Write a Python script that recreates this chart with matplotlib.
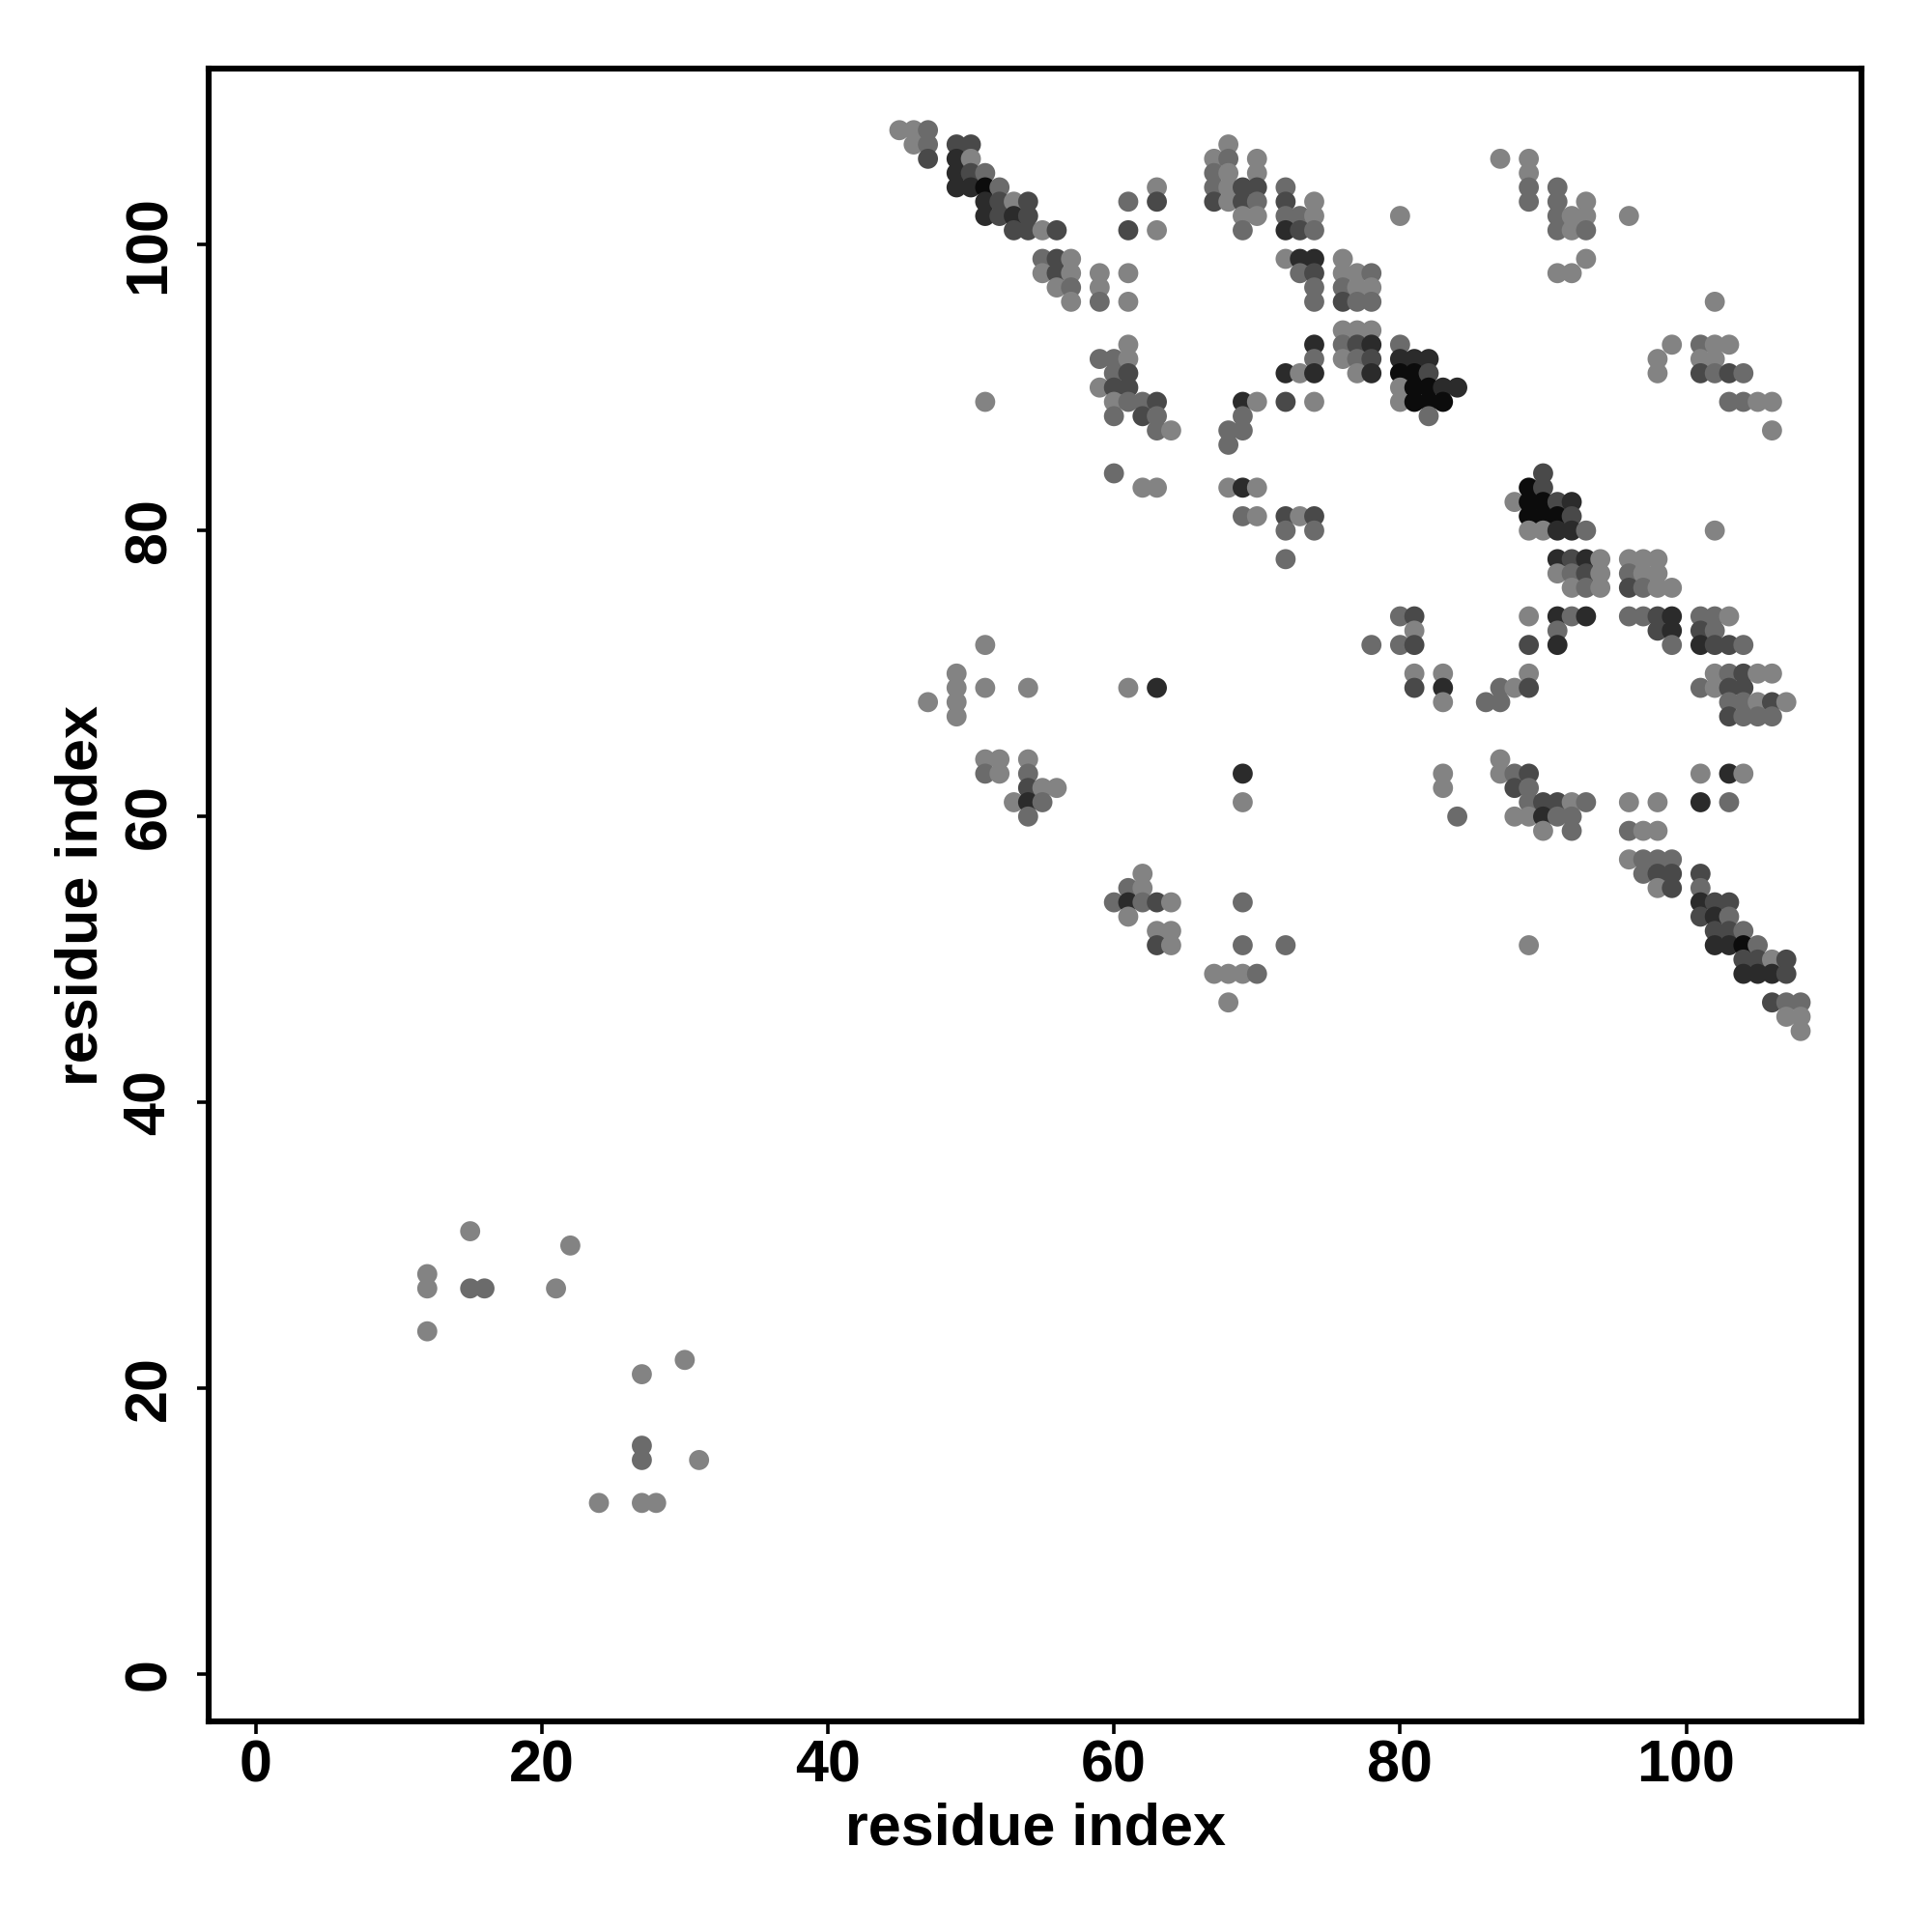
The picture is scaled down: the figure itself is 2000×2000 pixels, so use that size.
import matplotlib
matplotlib.use("Agg")
import matplotlib.pyplot as plt

# Contact map: one entry per row of residue j,
# with the residues i in contact and a shade level 1 (light grey) .. 5 (black)
row_y = [108, 107, 106, 105, 104, 103, 102, 101, 99, 98, 97, 96, 94, 93, 92, 91,
         90, 89, 88, 87, 86, 84, 83, 82, 81, 80, 78, 77, 76, 74, 73, 72, 70, 69,
         68, 67, 64, 63, 62, 61, 60, 59, 57, 56, 55, 54, 53, 52, 51, 50, 49, 47,
         46, 45, 31, 30, 28, 27, 24, 22, 21, 16, 15, 12]

row_x = [
    [45, 46, 47],
    [46, 47, 49, 50, 68],
    [47, 49, 50, 67, 68, 70, 87, 89],
    [49, 50, 51, 67, 68, 70, 89],
    [49, 50, 51, 52, 63, 67, 68, 69, 70, 72, 89, 91],
    [51, 52, 53, 54, 61, 63, 67, 68, 69, 70, 72, 74, 89, 91, 93],
    [51, 52, 53, 54, 69, 70, 72, 73, 74, 80, 91, 92, 93, 96],
    [53, 54, 55, 56, 61, 63, 69, 72, 73, 74, 91, 92, 93],
    [55, 56, 57, 72, 73, 74, 76, 93],
    [55, 56, 57, 59, 61, 73, 74, 76, 77, 78, 91, 92],
    [56, 57, 59, 74, 76, 77, 78],
    [57, 59, 61, 74, 76, 77, 78, 102],
    [76, 77, 78],
    [61, 74, 76, 77, 78, 80, 99, 101, 102, 103],
    [59, 60, 61, 74, 76, 77, 78, 80, 81, 82, 98, 101, 102],
    [60, 61, 72, 73, 74, 77, 78, 80, 81, 82, 98, 101, 102, 103, 104],
    [59, 60, 61, 80, 81, 82, 83, 84],
    [51, 60, 61, 62, 63, 69, 70, 72, 74, 80, 81, 82, 83, 103, 104, 105, 106],
    [60, 62, 63, 69, 82],
    [63, 64, 68, 69, 106],
    [68],
    [60, 90],
    [62, 63, 68, 69, 70, 89, 90],
    [88, 89, 90, 91, 92],
    [69, 70, 72, 73, 74, 89, 90, 91, 92],
    [72, 74, 89, 90, 91, 92, 93, 102],
    [72, 91, 92, 93, 94, 96, 97, 98],
    [91, 92, 93, 94, 96, 97, 98],
    [92, 93, 94, 96, 97, 98, 99],
    [80, 81, 89, 91, 92, 93, 96, 97, 98, 99, 101, 102, 103],
    [81, 91, 98, 99, 101, 102],
    [51, 78, 80, 81, 89, 91, 99, 101, 102, 103, 104],
    [49, 81, 83, 89, 102, 103, 104, 105, 106],
    [49, 51, 54, 61, 63, 81, 83, 87, 88, 89, 101, 102, 103, 104],
    [47, 49, 83, 86, 87, 103, 104, 105, 106, 107],
    [49, 103, 104, 105, 106],
    [51, 52, 54, 87],
    [51, 52, 54, 69, 83, 87, 88, 89, 101, 103, 104],
    [54, 55, 56, 83, 88, 89],
    [53, 54, 55, 69, 89, 90, 91, 92, 93, 96, 98, 101, 103],
    [54, 84, 88, 89, 90, 91, 92],
    [90, 92, 96, 97, 98],
    [96, 97, 98, 99],
    [62, 97, 98, 99, 101],
    [61, 62, 98, 99, 101],
    [60, 61, 62, 63, 64, 69, 101, 102, 103],
    [61, 101, 102, 103],
    [63, 64, 102, 103, 104],
    [63, 64, 69, 72, 89, 102, 103, 104, 105],
    [104, 105, 106, 107],
    [67, 68, 69, 70, 104, 105, 106, 107],
    [68, 106, 107, 108],
    [107, 108],
    [108],
    [15],
    [22],
    [12],
    [12, 15, 16, 21],
    [12],
    [30],
    [27],
    [27],
    [27, 31],
    [24, 27, 28],
]

row_shade = [
    [1, 1, 2],
    [1, 2, 3, 3, 1],
    [3, 4, 1, 1, 2, 1, 1, 1],
    [4, 3, 2, 2, 1, 1, 1],
    [4, 4, 5, 2, 1, 2, 1, 3, 3, 2, 2, 2],
    [4, 3, 1, 3, 2, 3, 3, 1, 3, 2, 3, 1, 2, 2, 1],
    [4, 3, 4, 3, 1, 1, 2, 2, 1, 1, 2, 1, 1, 1],
    [3, 3, 1, 3, 3, 1, 2, 4, 3, 2, 2, 1, 2],
    [2, 3, 1, 1, 4, 4, 1, 1],
    [1, 3, 1, 1, 1, 2, 3, 1, 1, 2, 1, 1],
    [1, 2, 1, 2, 2, 1, 1],
    [1, 2, 1, 2, 3, 2, 2, 1],
    [1, 1, 1],
    [1, 4, 2, 3, 4, 2, 1, 2, 1, 1],
    [2, 2, 1, 2, 1, 2, 3, 4, 4, 4, 1, 1, 1],
    [2, 3, 4, 1, 4, 1, 4, 5, 5, 3, 1, 3, 2, 3, 2],
    [1, 3, 3, 1, 5, 5, 4, 4],
    [1, 1, 2, 2, 3, 4, 1, 3, 1, 1, 5, 5, 5, 2, 2, 1, 1],
    [2, 3, 2, 2, 2],
    [2, 1, 2, 2, 1],
    [2],
    [2, 3],
    [1, 1, 1, 4, 1, 5, 3],
    [1, 5, 5, 3, 4],
    [2, 1, 3, 1, 3, 5, 5, 5, 3],
    [2, 2, 1, 1, 4, 4, 2, 1],
    [2, 4, 3, 4, 1, 1, 1, 1],
    [1, 2, 3, 1, 2, 1, 1],
    [1, 2, 1, 3, 2, 1, 1],
    [2, 3, 1, 4, 2, 4, 2, 2, 3, 4, 2, 2, 1],
    [1, 2, 3, 4, 3, 2],
    [1, 2, 2, 3, 3, 4, 2, 4, 3, 3, 2],
    [1, 1, 1, 1, 1, 2, 3, 1, 1],
    [1, 1, 1, 1, 4, 3, 4, 2, 1, 3, 2, 1, 3, 3],
    [1, 1, 1, 2, 2, 2, 2, 1, 3, 1],
    [1, 3, 2, 2, 2],
    [1, 1, 1, 1],
    [2, 1, 2, 4, 1, 1, 2, 3, 1, 4, 1],
    [3, 1, 1, 1, 3, 2],
    [1, 4, 2, 1, 2, 3, 3, 1, 2, 1, 1, 4, 2],
    [2, 2, 1, 1, 4, 2, 2],
    [1, 2, 2, 1, 1],
    [1, 2, 2, 2],
    [1, 2, 3, 3, 3],
    [2, 1, 1, 3, 2],
    [2, 4, 2, 3, 1, 2, 4, 3, 3],
    [1, 3, 4, 2],
    [1, 1, 3, 3, 2],
    [3, 1, 2, 2, 1, 4, 4, 5, 2],
    [3, 3, 1, 3],
    [1, 1, 1, 2, 4, 4, 4, 3],
    [1, 3, 2, 2],
    [1, 1],
    [1],
    [1],
    [1],
    [1],
    [1, 2, 2, 1],
    [1],
    [1],
    [1],
    [2],
    [2, 1],
    [1, 1, 1],
]

axis_ticks = [0, 20, 40, 60, 80, 100]

# grey used for each shade level
shade_colors = {1: '#838383', 2: '#6b6b6b', 3: '#494949', 4: '#2b2b2b', 5: '#0c0c0c'}

xs, ys, cs = [], [], []
for y, xrow, srow in zip(row_y, row_x, row_shade):
    for x, s in zip(xrow, srow):
        xs.append(x)
        ys.append(y)
        cs.append(shade_colors[s])

plt.rcParams['font.family'] = ['Liberation Sans', 'DejaVu Sans']
plt.rcParams['font.weight'] = 'bold'

fig = plt.figure(figsize=(10, 10), dpi=200)
ax = fig.add_axes([0.108, 0.109, 0.8557, 0.8553])

ax.scatter(xs, ys, s=56, c=cs, linewidths=0, zorder=3)

lo, hi = 1, 108
pad = 0.04 * (hi - lo)
ax.set_xlim(lo - pad, hi + pad)
ax.set_ylim(lo - pad, hi + pad)

ax.set_xticks(axis_ticks)
ax.set_yticks(axis_ticks)
ax.tick_params(direction='out', length=4.5, width=1.3, labelsize=22)
ax.tick_params(axis='x', pad=2)
ax.tick_params(axis='y', pad=7)
for lab in ax.get_yticklabels():
    lab.set_rotation(90)
    lab.set_va('center')
for lab in ax.get_xticklabels() + ax.get_yticklabels():
    lab.set_fontweight('bold')

for sp in ax.spines.values():
    sp.set_linewidth(2.2)

ax.set_xlabel('residue index', fontsize=22, fontweight='bold', labelpad=3)
ax.set_ylabel('residue index', fontsize=22, fontweight='bold', labelpad=5)

fig.savefig('out.png', dpi=200, facecolor='white')
